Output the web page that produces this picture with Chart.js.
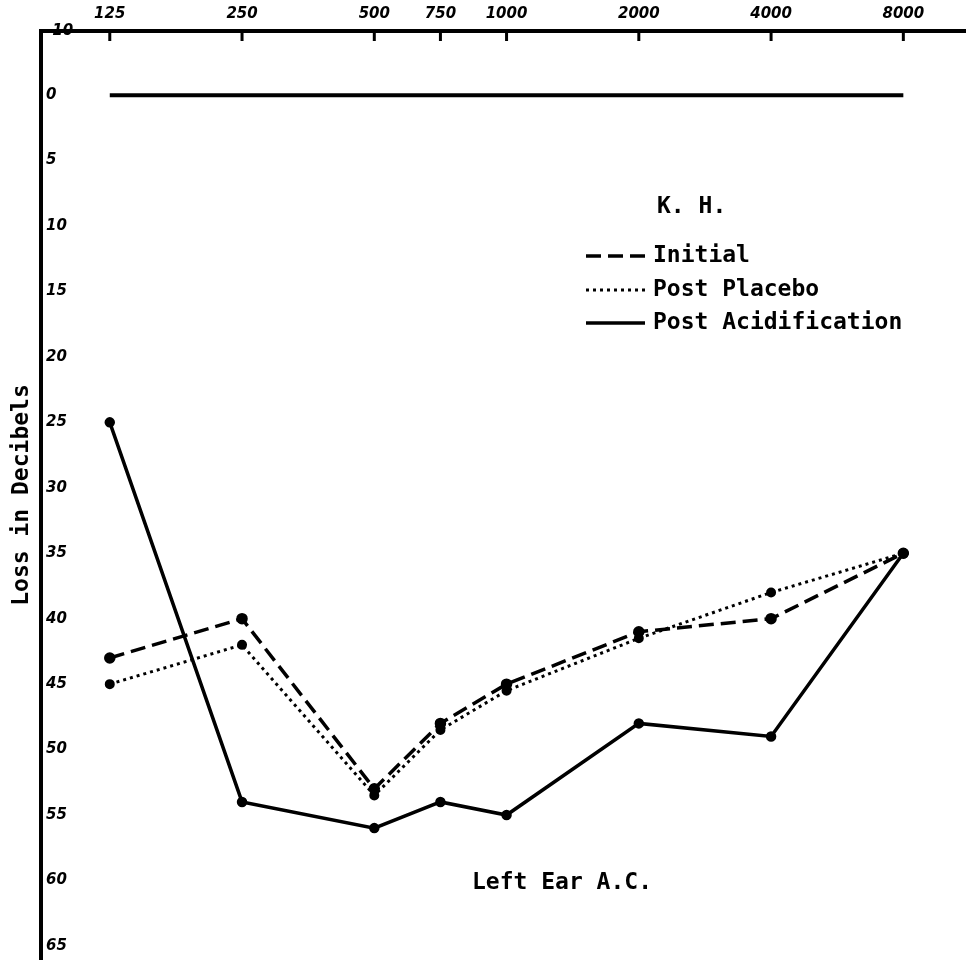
<!DOCTYPE html>
<html>
<head>
<meta charset="utf-8">
<script src="https://cdn.jsdelivr.net/npm/chart.js@4.4.1/dist/chart.umd.min.js"></script>
<style>
  html, body { margin: 0; padding: 0; background: #fff; overflow: hidden; }
  #wrap { width: 973px; height: 973px; }
  canvas { display: block; }
</style>
</head>
<body>
<div id="wrap"><canvas id="audiogram" width="973" height="973"></canvas></div>
<script>
const freqLabels = ["125", "250", "500", "750", "1000", "2000", "4000", "8000"];
// grid position in octaves above 125 Hz; the chart draws 750 halfway between 500 and 1000
const freqPos = [0, 1, 2, 2.5, 3, 4, 5, 6];
const yTickLabels = ["-10", "0", "5", "10", "15", "20", "25", "30", "35", "40", "45", "50", "55", "60", "65"];

const zeroLine = [0, 0, 0, 0, 0, 0, 0, 0];
const initial = [43, 40, 53, 48, 45, 41, 40, 35];
const postPlacebo = [45, 42, 53.5, 48.5, 45.5, 41.5, 38, 35];
const postAcidification = [25, 54, 56, 54, 55, 48, 49, 35];

const lettering = "bold 23px 'DejaVu Sans Mono'";
const tickFont = { family: "DejaVu Sans", style: "italic", weight: "bold", size: 15 };

const toPoints = (vals) => vals.map((v, i) => ({ x: freqPos[i], y: v }));

// tick marks under the top axis, legend block and caption
const extras = {
  id: "extras",
  afterDraw(chart) {
    const ctx = chart.ctx;
    const xs = chart.scales.x;
    const top = chart.chartArea.top;
    ctx.save();
    ctx.strokeStyle = "#000";
    ctx.fillStyle = "#000";
    ctx.lineWidth = 3;
    xs.ticks.forEach((t, i) => {
      const px = xs.getPixelForTick(i);
      ctx.beginPath();
      ctx.moveTo(px, top);
      ctx.lineTo(px, top + 10);
      ctx.stroke();
    });

    ctx.font = lettering;
    ctx.textBaseline = "middle";
    ctx.fillText("K. H.", 657, 207);
    const rows = [256, 290, 323];
    chart.data.datasets.filter(d => d.label).forEach((ds, i) => {
      ctx.setLineDash(ds.borderDash || []);
      ctx.lineWidth = ds.borderWidth;
      ctx.beginPath();
      ctx.moveTo(586, rows[i]);
      ctx.lineTo(645, rows[i]);
      ctx.stroke();
      ctx.setLineDash([]);
      ctx.fillText(ds.label, 653, rows[i]);
    });

    ctx.textAlign = "center";
    ctx.fillText("Left Ear A.C.", 562, 883);
    ctx.restore();
  }
};

new Chart(document.getElementById("audiogram"), {
  type: "line",
  data: {
    datasets: [
      {
        data: toPoints(zeroLine),
        borderColor: "#000",
        borderWidth: 4,
        pointRadius: 0
      },
      {
        label: "Initial",
        data: toPoints(initial),
        borderColor: "#000",
        backgroundColor: "#000",
        borderWidth: 3.5,
        borderDash: [15, 7],
        pointRadius: 4
      },
      {
        label: "Post Placebo",
        data: toPoints(postPlacebo),
        borderColor: "#000",
        backgroundColor: "#000",
        borderWidth: 3,
        borderDash: [3, 4],
        pointRadius: 3.5
      },
      {
        label: "Post Acidification",
        data: toPoints(postAcidification),
        borderColor: "#000",
        backgroundColor: "#000",
        borderWidth: 3.5,
        pointRadius: 3.5
      }
    ]
  },
  options: {
    responsive: false,
    devicePixelRatio: 1,
    animation: false,
    layout: { padding: 0 },
    plugins: { legend: { display: false }, tooltip: { enabled: false } },
    scales: {
      x: {
        type: "linear",
        position: "top",
        min: -0.52,
        max: 6.47,
        afterBuildTicks: (s) => { s.ticks = freqPos.map(v => ({ value: v })); },
        afterFit: (s) => { s.height = 31; },
        ticks: {
          autoSkip: false,
          maxRotation: 0,
          padding: 8,
          color: "#000",
          font: tickFont,
          callback: (v, i) => freqLabels[i]
        },
        grid: { drawOnChartArea: false, drawTicks: false },
        border: { display: true, color: "#000", width: 4 }
      },
      y: {
        type: "linear",
        position: "left",
        reverse: true,
        min: -4.9,
        max: 66,
        afterBuildTicks: (s) => {
          s.ticks = yTickLabels.map((l, i) => ({ value: i === 0 ? s.min : (i - 1) * 5 }));
        },
        afterFit: (s) => { s.width = 41; },
        ticks: {
          mirror: true,
          padding: 5,
          color: "#000",
          font: tickFont,
          callback: (v, i) => yTickLabels[i]
        },
        title: {
          display: true,
          text: "Loss in Decibels",
          color: "#000",
          font: { family: "DejaVu Sans Mono", weight: "bold", size: 23 },
          padding: { top: 8, bottom: 0 }
        },
        grid: { drawOnChartArea: false, drawTicks: false },
        border: { display: true, color: "#000", width: 4 }
      }
    }
  },
  plugins: [extras]
});
</script>
</body>
</html>
